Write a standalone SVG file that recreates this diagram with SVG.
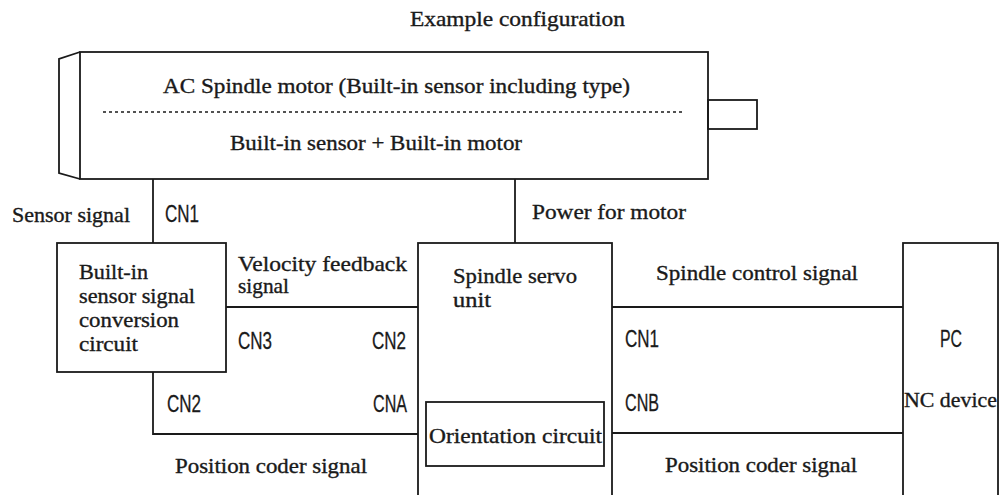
<svg xmlns="http://www.w3.org/2000/svg" width="1003" height="495" viewBox="0 0 1003 495">
<style>
.ln{fill:none;stroke:#1a1a1a;stroke-width:1.8}
.bx{fill:none;stroke:#1a1a1a;stroke-width:1.8}
.t{font-family:"Liberation Serif","DejaVu Serif",serif;font-size:21px;fill:#1a1a1a;stroke:#1a1a1a;stroke-width:0.35}
.c{font-family:"Liberation Sans","DejaVu Sans",sans-serif;font-size:24px;fill:#1a1a1a;stroke:#1a1a1a;stroke-width:0.3}
</style>
<rect width="1003" height="495" fill="#ffffff"/>
<text class="t" x="410" y="26" textLength="215" lengthAdjust="spacingAndGlyphs">Example configuration</text>
<g id="motor">
<rect class="bx" x="80" y="52" width="628" height="127"/>
<path class="bx" d="M80,52 L59,59 L59,173 L80,179"/>
<rect class="bx" x="708" y="100" width="49" height="29"/>
<line x1="103" y1="112" x2="685" y2="112" stroke="#1a1a1a" stroke-width="1.5" stroke-dasharray="3 3"/>
<text class="t" x="163" y="93" textLength="467" lengthAdjust="spacingAndGlyphs">AC Spindle motor (Built-in sensor including type)</text>
<text class="t" x="230" y="150" textLength="292" lengthAdjust="spacingAndGlyphs">Built-in sensor + Built-in motor</text>
</g>
<g id="converter">
<rect class="bx" x="57" y="243" width="169" height="129"/>
<text class="t" x="79" y="279" textLength="69" lengthAdjust="spacingAndGlyphs">Built-in</text>
<text class="t" x="79" y="303" textLength="116" lengthAdjust="spacingAndGlyphs">sensor signal</text>
<text class="t" x="79" y="327" textLength="100" lengthAdjust="spacingAndGlyphs">conversion</text>
<text class="t" x="79" y="351" textLength="59" lengthAdjust="spacingAndGlyphs">circuit</text>
</g>
<g id="servo">
<rect class="bx" x="418" y="243" width="194" height="260"/>
<text class="t" x="453" y="283" textLength="124" lengthAdjust="spacingAndGlyphs">Spindle servo</text>
<text class="t" x="453" y="307" textLength="38" lengthAdjust="spacingAndGlyphs">unit</text>
</g>
<g id="orientation">
<rect class="bx" x="426" y="402" width="178" height="64"/>
<text class="t" x="429" y="443" textLength="173" lengthAdjust="spacingAndGlyphs">Orientation circuit</text>
</g>
<g id="nc">
<rect class="bx" x="903" y="243" width="95" height="260"/>
<text class="c" x="940" y="347" textLength="22" lengthAdjust="spacingAndGlyphs">PC</text>
<text class="t" x="904" y="407" textLength="93" lengthAdjust="spacingAndGlyphs">NC device</text>
</g>
<g id="connectors">
<line class="ln" x1="153" y1="179" x2="153" y2="243"/>
<line class="ln" x1="515" y1="179" x2="515" y2="243"/>
<line class="ln" x1="226" y1="307" x2="418" y2="307"/>
<polyline class="ln" points="153,372 153,434 418,434"/>
<line class="ln" x1="612" y1="307" x2="903" y2="307"/>
<line class="ln" x1="612" y1="433" x2="903" y2="433"/>
<text class="t" x="12" y="222" textLength="118" lengthAdjust="spacingAndGlyphs">Sensor signal</text>
<text class="c" x="165" y="222" textLength="34" lengthAdjust="spacingAndGlyphs">CN1</text>
<text class="t" x="532" y="219" textLength="154" lengthAdjust="spacingAndGlyphs">Power for motor</text>
<text class="t" x="238" y="271" textLength="169" lengthAdjust="spacingAndGlyphs">Velocity feedback</text>
<text class="t" x="238" y="293" textLength="51" lengthAdjust="spacingAndGlyphs">signal</text>
<text class="c" x="238" y="349" textLength="34" lengthAdjust="spacingAndGlyphs">CN3</text>
<text class="c" x="372" y="349" textLength="34" lengthAdjust="spacingAndGlyphs">CN2</text>
<text class="c" x="167" y="412" textLength="34" lengthAdjust="spacingAndGlyphs">CN2</text>
<text class="c" x="373" y="412" textLength="34" lengthAdjust="spacingAndGlyphs">CNA</text>
<text class="t" x="175" y="473" textLength="192" lengthAdjust="spacingAndGlyphs">Position coder signal</text>
<text class="t" x="656" y="280" textLength="202" lengthAdjust="spacingAndGlyphs">Spindle control signal</text>
<text class="c" x="625" y="347" textLength="34" lengthAdjust="spacingAndGlyphs">CN1</text>
<text class="c" x="625" y="411" textLength="34" lengthAdjust="spacingAndGlyphs">CNB</text>
<text class="t" x="665" y="472" textLength="192" lengthAdjust="spacingAndGlyphs">Position coder signal</text>
</g>
</svg>
